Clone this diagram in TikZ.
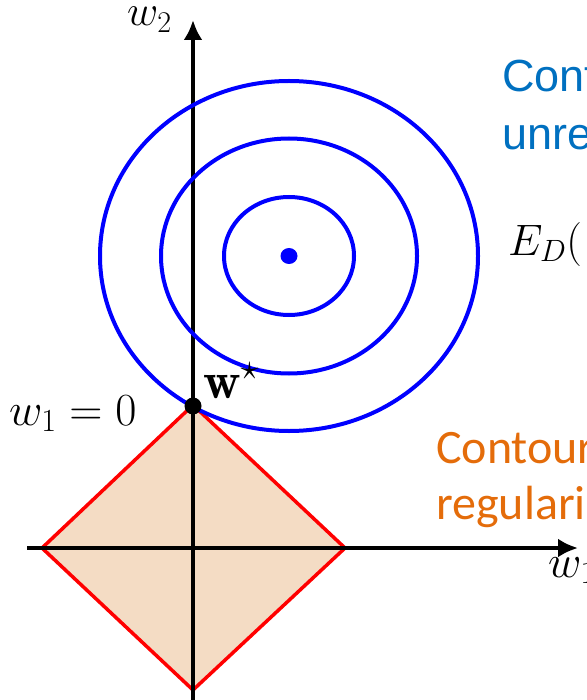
\RequirePackage{fix-cm}
\documentclass[tikz,border=0pt]{standalone}
\usepackage{fontspec}
\usepackage{amsmath}
\newfontfamily\carlito{Carlito}
\newfontfamily\libsans{Liberation Sans}
\usetikzlibrary{arrows.meta}
\definecolor{cblue}{RGB}{0,112,192}
\definecolor{corange}{RGB}{228,108,10}
\definecolor{cfill}{RGB}{244,220,196}
\definecolor{cring}{RGB}{0,0,255}
\definecolor{cred}{RGB}{255,0,0}
\tikzset{
  axis/.style={line width=4pt,-{Latex[length=20pt,width=19pt]}},
  ring/.style={draw=cring,line width=4pt},
  diam/.style={draw=cred,line width=3.5pt,line join=miter},
  lbl/.style={inner sep=0pt,anchor=base west},
  bluetxt/.style={lbl,text=cblue,font=\libsans\fontsize{45}{54}\selectfont},
  orangetxt/.style={lbl,text=corange,font=\carlito\fontsize{48}{56}\selectfont},
}
\begin{document}
\begin{tikzpicture}[x=1pt,y=-1pt]
\useasboundingbox (0,0) rectangle (586,700);
\clip (0,0) rectangle (586,700);
% diamond
\coordinate (L) at (42,548);
\coordinate (R) at (345,548);
\coordinate (T) at (193,405);
\coordinate (B) at (193,690);
\fill[cfill] (L) -- (T) -- (R) -- (B) -- cycle;
\draw[diam] (L) -- (T) -- (R) -- (B) -- cycle;
% axes
\coordinate (xl) at (27,548);
\coordinate (xr) at (578,548);
\coordinate (yb) at (193,705);
\coordinate (yt) at (193,20);
\draw[axis] (xl) -- (xr);
\draw[axis] (yb) -- (yt);
% contours
\coordinate (c) at (289,256);
\draw[ring] (c) ellipse [x radius=65,y radius=59];
\draw[ring] (c) ellipse [x radius=128,y radius=117.5];
\draw[ring] (c) ellipse [x radius=189,y radius=175];
\fill[cring] (c) ellipse [x radius=8.5,y radius=8];
% optimum
\coordinate (ws) at (193,406);
\fill[black] (ws) circle (8.5);
% labels
\node[lbl,font=\fontsize{52}{58}\selectfont] (wslbl) at (203,398) {$\mathbf{w}^{\star}$};
\node[lbl,font=\fontsize{43}{48}\selectfont] (w2) at (127,26) {$w_2$};
\node[lbl,font=\fontsize{46}{52}\selectfont] (w1) at (548,577) {$w_1$};
\node[lbl,font=\fontsize{44}{50}\selectfont] (ed) at (508,255) {$E_D($};
\node[lbl,font=\fontsize{46}{52}\selectfont] (w10) at (9,425) {$w_1=0$};
\node[bluetxt] (b1) at (502,92) {Cont};
\node[bluetxt] (b2) at (502,150) {unre};
\node[orangetxt] (o1) at (436,463) {Contour};
\node[orangetxt] (o2) at (436,519) {regulari};
\end{tikzpicture}
\end{document}
